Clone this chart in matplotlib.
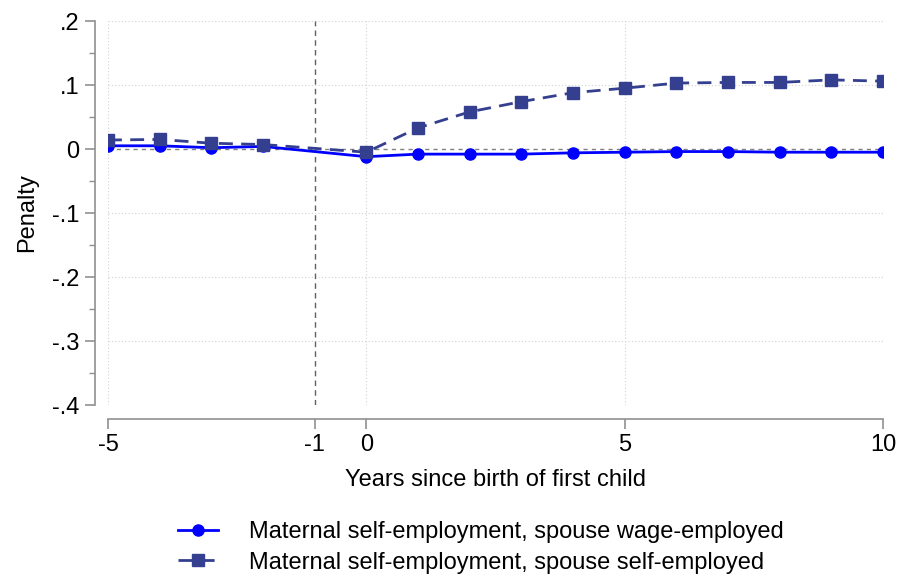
import matplotlib
matplotlib.use("Agg")
import matplotlib.pyplot as plt
from matplotlib.ticker import FixedLocator

plt.rcParams['font.family'] = ['Liberation Sans', 'DejaVu Sans']

years = [-5, -4, -3, -2, 0, 1, 2, 3, 4, 5, 6, 7, 8, 9, 10]
wage_spouse = [0.005, 0.005, 0.002, 0.004, -0.012, -0.008, -0.008, -0.008, -0.006,
               -0.005, -0.004, -0.004, -0.005, -0.005, -0.005]
self_spouse = [0.014, 0.015, 0.009, 0.007, -0.005, 0.033, 0.058, 0.074, 0.088,
               0.095, 0.103, 0.104, 0.104, 0.108, 0.106]
xticks = [-5, -1, 0, 5, 10]
yticks = [0.2, 0.1, 0.0, -0.1, -0.2, -0.3, -0.4]
ytick_labels = ['.2', '.1', '0', '-.1', '-.2', '-.3', '-.4']
labels = ['Maternal self-employment, spouse wage-employed',
          'Maternal self-employment, spouse self-employed']

fig = plt.figure(figsize=(8.98, 5.78), dpi=100)
ax = fig.add_axes([108/898, 1-405/578, (883-108)/898, (405-21)/578])
ax.set_xlim(-5, 10)
ax.set_ylim(-0.4, 0.2)

# grid
for g in [-5, 0, 5, 10]:
    ax.axvline(g, color='#d0d0d0', lw=0.8, ls=(0, (1, 2)), zorder=0)
for g in [0.2, 0.1, -0.1, -0.2, -0.3]:
    ax.axhline(g, color='#d0d0d0', lw=0.8, ls=(0, (1, 2)), zorder=0)
ax.axhline(0, color='#808080', lw=1.0, ls=(0, (3, 3)), zorder=1)
ax.axvline(-1, color='#606060', lw=1.0, ls=(0, (4, 3)), zorder=1)

blue = '#0000ff'
navy = '#343f8f'
l1, = ax.plot(years, wage_spouse, color=blue, lw=2, marker='o', ms=8, zorder=3,
              label=labels[0])
l2, = ax.plot(years, self_spouse, color=navy, lw=2, ls=(0, (5, 3)), marker='s', ms=8,
              zorder=4, label=labels[1])

for s in ['top', 'right']:
    ax.spines[s].set_visible(False)
ax.spines['left'].set_position(('outward', 9.4))
ax.spines['bottom'].set_position(('outward', 10))
ax.spines['left'].set_bounds(-0.4, 0.2)
ax.spines['bottom'].set_bounds(-5, 10)
for s in ['left', 'bottom']:
    ax.spines[s].set_color('#909090')
    ax.spines[s].set_linewidth(1.2)

ax.set_xticks(xticks)
ax.set_xticklabels([str(v) for v in xticks])
ax.set_yticks(yticks)
ax.set_yticklabels(ytick_labels)
ax.yaxis.set_minor_locator(FixedLocator([0.15, 0.05, -0.05, -0.15, -0.25, -0.35]))
ax.tick_params(axis='both', which='major', length=7, color='#909090', width=1.2,
               labelsize=17, pad=4)
ax.tick_params(axis='y', which='minor', length=4, color='#909090', width=1.0)

ax.set_xlabel('Years since birth of first child', fontsize=17, labelpad=9)
ax.set_ylabel('Penalty', fontsize=17, labelpad=10)

fig.legend(handles=[l1, l2], loc='upper center', bbox_to_anchor=(481/898, 1-512/578),
           frameon=False, fontsize=17, handlelength=1.7, labelspacing=0.35,
           handletextpad=1.3, borderaxespad=0)

fig.savefig('out.png', dpi=100)
